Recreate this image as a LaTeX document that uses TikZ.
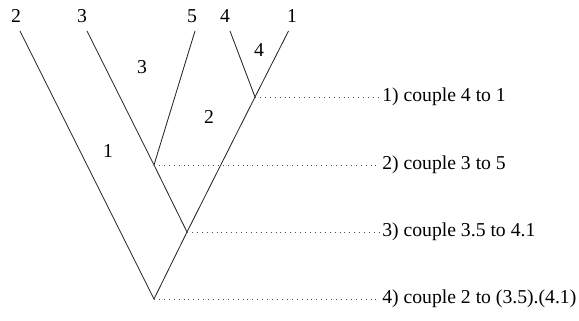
\documentclass[tikz,border=0pt]{standalone}
\usepackage{fontspec}
\setmainfont{LiberationSerif}[Extension=.ttf, UprightFont=*-Regular]
\tikzset{
  branch/.style={line width=0.6pt, black!85},
  guide/.style={line width=0.6pt, black!70, dash pattern=on 0.6pt off 2.9pt},
  steptext/.style={anchor=west, inner sep=0pt},
  numlabel/.style={inner sep=1pt}
}
\begin{document}
\begin{tikzpicture}[scale = 0.25, font=\fontsize{14}{16}\selectfont]
    \useasboundingbox (0,0) rectangle (57.9,-32.0);

    % Leaves
    \node[numlabel] (l2) at (1.6,-1.6) {2};
    \node[numlabel] (l3) at (8.2,-1.6) {3};
    \node[numlabel] (l5) at (19.2,-1.6) {5};
    \node[numlabel] (l4) at (22.5,-1.6) {4};
    \node[numlabel] (l1) at (29.2,-1.6) {1};

    \coordinate (t2) at (2.0,-3.1);
    \coordinate (t3) at (8.7,-3.1);
    \coordinate (t5) at (19.5,-3.1);
    \coordinate (t4) at (23.0,-3.1);
    \coordinate (t1) at (28.85,-3.1);

    % Couplings
    \coordinate (j41) at (25.5,-9.7);
    \coordinate (j35) at (15.4,-16.5);
    \coordinate (j3541) at (18.7,-23.2);
    \coordinate (root) at (15.4,-29.9);

    \draw[branch] (t4) -- (j41) -- (t1);
    \draw[branch] (t3) -- (j35) -- (t5);
    \draw[branch] (j35) -- (j3541) -- (j41);
    \draw[branch] (t2) -- (root) -- (j3541);

    % Region numbers
    \node (r3) at (14.2,-6.7) {3};
    \node (r4) at (25.9,-5.0) {4};
    \node (r2) at (20.9,-11.7) {2};
    \node (r1) at (10.8,-15.1) {1};

    % Steps
    \node[steptext] (s1) at (38.2,-9.7) {1) couple 4 to 1};
    \node[steptext] (s2) at (38.2,-16.5) {2) couple 3 to 5};
    \node[steptext] (s3) at (38.2,-23.2) {3) couple 3.5 to 4.1};
    \node[steptext] (s4) at (38.2,-29.9) {4) couple 2 to (3.5).(4.1)};

    \draw[guide] (j41) -- ([xshift=-6pt]s1.west);
    \draw[guide] (j35) -- ([xshift=-6pt]s2.west);
    \draw[guide] (j3541) -- ([xshift=-6pt]s3.west);
    \draw[guide] (root) -- ([xshift=-6pt]s4.west);
\end{tikzpicture}
\end{document}
